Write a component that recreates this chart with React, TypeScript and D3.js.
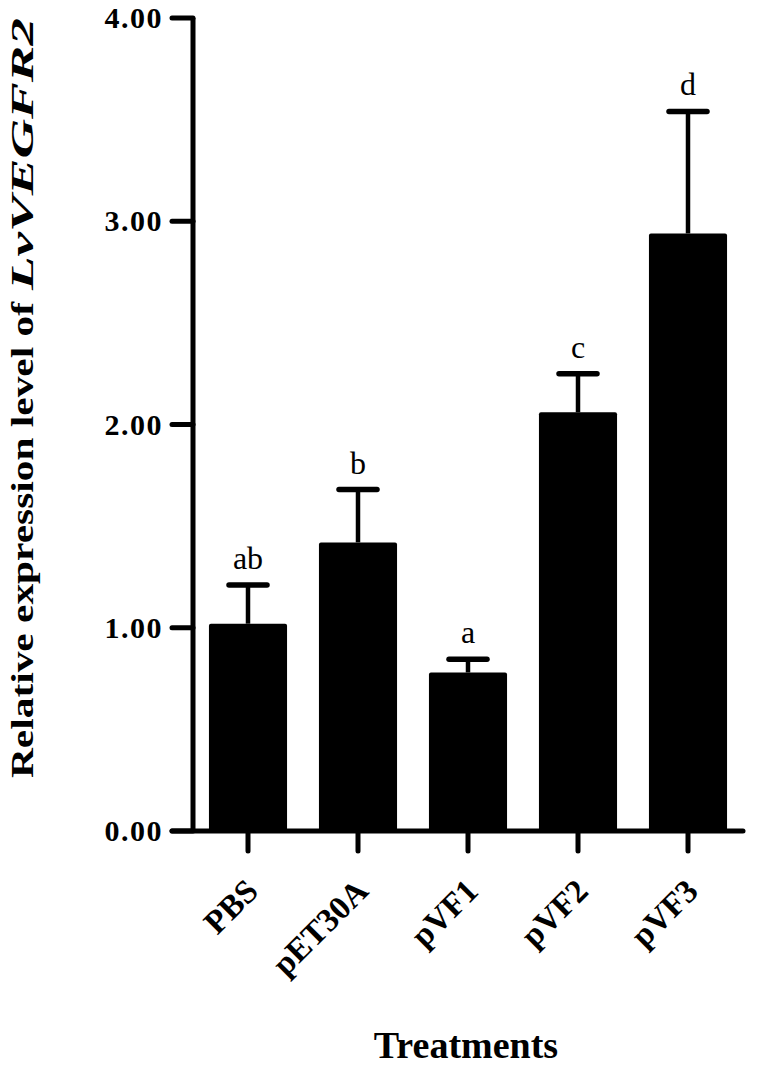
import React from "react";
import * as d3 from "d3";

const categories = ["PBS", "pET30A", "pVF1", "pVF2", "pVF3"];
const means = [1.02, 1.42, 0.78, 2.06, 2.94];
const errors = [0.19, 0.26, 0.065, 0.19, 0.6];
const letters = ["ab", "b", "a", "c", "d"];
const yTicks = [0, 1, 2, 3, 4];

const W = 758;
const H = 1066;
const FONT = "'Liberation Serif', 'Times New Roman', serif";

export default function App() {
  const x = d3
    .scaleBand<string>()
    .domain(categories)
    .range([193, 743])
    .paddingInner(0.29)
    .paddingOuter(0.145);
  const y = d3.scaleLinear().domain([0, 4]).range([831, 18]);
  const bw = x.bandwidth();
  const axisW = 5;

  return (
    <svg
      width={W}
      height={H}
      style={{ position: "absolute", left: 0, top: 0, background: "#fff" }}
      fontFamily={FONT}
    >
      <rect x={0} y={0} width={W} height={H} fill="#fff" />
      {categories.map((c, i) => {
        const cx = (x(c) as number) + bw / 2;
        const top = y(means[i]);
        const capY = y(means[i] + errors[i]);
        return (
          <g key={c}>
            <line x1={cx} x2={cx} y1={top} y2={capY} stroke="#000" strokeWidth={4.5} />
            <line
              x1={cx - 19}
              x2={cx + 19}
              y1={capY}
              y2={capY}
              stroke="#000"
              strokeWidth={5.5}
              strokeLinecap="round"
            />
            <rect
              x={x(c) as number}
              y={top}
              width={bw}
              height={y(0) - top}
              fill="#000"
              rx={2}
            />
            <text
              x={cx}
              y={capY - 16}
              textAnchor="middle"
              fontSize={32}
              fill="#000"
            >
              {letters[i]}
            </text>
          </g>
        );
      })}
      <line x1={193} x2={193} y1={y(4)} y2={y(0)} stroke="#000" strokeWidth={axisW} />
      {yTicks.map((t) => (
        <g key={t}>
          <line
            x1={172}
            x2={193}
            y1={y(t)}
            y2={y(t)}
            stroke="#000"
            strokeWidth={axisW}
            strokeLinecap="round"
          />
          <text
            x={163}
            y={y(t)}
            dy="0.34em"
            textAnchor="end"
            fontSize={30}
            fontWeight="bold"
            letterSpacing={1.5}
            fill="#000"
          >
            {t.toFixed(2)}
          </text>
        </g>
      ))}
      <line x1={172} x2={743} y1={y(0)} y2={y(0)} stroke="#000" strokeWidth={axisW} strokeLinecap="round" />
      {categories.map((c) => {
        const cx = (x(c) as number) + bw / 2;
        return (
          <g key={"xt" + c}>
            <line
              x1={cx}
              x2={cx}
              y1={y(0)}
              y2={y(0) + 20}
              stroke="#000"
              strokeWidth={axisW}
              strokeLinecap="round"
            />
            <text
              transform={`translate(${cx + 12},${893}) rotate(-45)`}
              textAnchor="end"
              fontSize={33}
              fontWeight="bold"
              fill="#000"
            >
              {c}
            </text>
          </g>
        );
      })}
      <text
        x={466}
        y={1058}
        textAnchor="middle"
        fontSize={38}
        fontWeight="bold"
        fill="#000"
      >
        Treatments
      </text>
      <g transform="translate(33,778) rotate(-90)">
        <text
          x={0}
          y={0}
          fontSize={31}
          fontWeight="bold"
          textLength={476}
          lengthAdjust="spacingAndGlyphs"
          fill="#000"
        >
          Relative expression level of
        </text>
        <text
          x={488}
          y={0}
          fontSize={31}
          fontWeight="bold"
          fontStyle="italic"
          textLength={272}
          lengthAdjust="spacingAndGlyphs"
          fill="#000"
        >
          LvVEGFR2
        </text>
      </g>
    </svg>
  );
}
